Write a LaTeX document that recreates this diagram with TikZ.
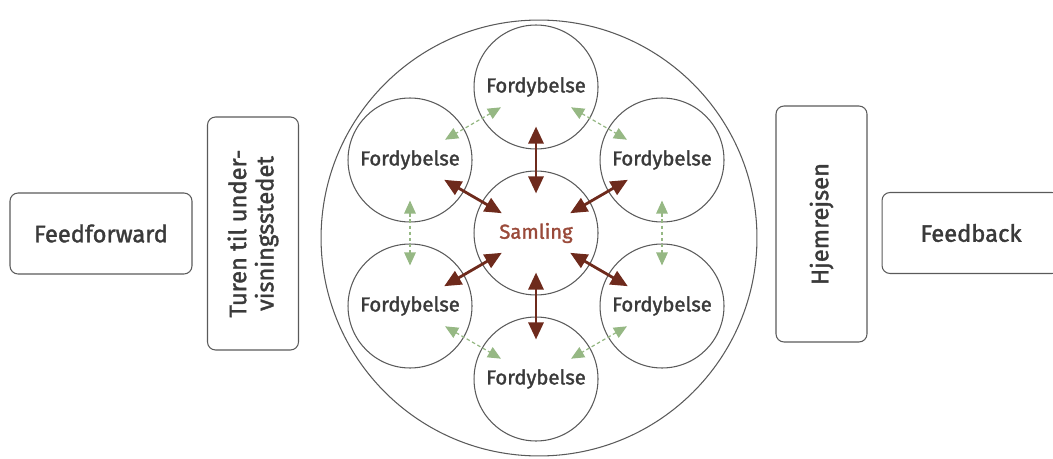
\documentclass[tikz,border=0pt]{standalone}
\usepackage{fontspec}
\setmainfont{Fira Sans}
\newfontfamily\diagfont{Fira Sans}[FakeBold=1.6]
\usepackage{xcolor}
\usepackage{tikz}
\usetikzlibrary{arrows.meta, positioning, calc}

\definecolor{linegray}{HTML}{5A5A5A}
\definecolor{textgray}{HTML}{3A3A3A}
\definecolor{brownred}{HTML}{6E2A1C}
\definecolor{samlingred}{HTML}{9A4A3A}
\definecolor{lightgreen}{HTML}{96B884}

\begin{document}
\begin{tikzpicture}[
  x=0.02cm, y=-0.02cm,
  phase/.style={draw=linegray, line width=0.6pt, rounded corners=1.6mm, align=center,
    text=textgray, font=\diagfont\fontsize{13.5}{15.5}\selectfont, inner sep=0pt},
  deep/.style={circle, draw=linegray, line width=0.6pt, minimum size=2.48cm,
    inner sep=0pt, text=textgray, font=\diagfont\fontsize{11.5}{13}\selectfont},
  core/.style={{Triangle[length=3.4mm,width=3mm]}-{Triangle[length=3.4mm,width=3mm]},
    draw=brownred, line width=1.6pt, shorten <=-0.46cm, shorten >=-0.46cm},
  peer/.style={{Triangle[length=2.6mm,width=2.3mm]}-{Triangle[length=2.6mm,width=2.3mm]},
    draw=lightgreen, line width=0.7pt, dash pattern=on 2pt off 1.5pt,
    shorten <=-0.44cm, shorten >=-0.44cm}
]
\useasboundingbox (0,0) rectangle (1053,459);

% outer ring
\node[circle, draw=linegray, line width=0.6pt, minimum size=8.72cm, inner sep=0pt] (ring) at (539,238) {};

% side boxes
\node[phase, minimum width=3.64cm, minimum height=1.62cm] (feedforward) at (101,233.5) {Feedforward};
\node[phase, rotate=90, minimum width=4.66cm, minimum height=1.82cm] (turen) at (253,233.5) {Turen til under-\\visningsstedet};
\node[phase, rotate=90, minimum width=4.72cm, minimum height=1.82cm] (hjem) at (821.5,224) {Hjemrejsen};
\node[phase, minimum width=3.56cm, minimum height=1.62cm] (feedback) at (971,233) {Feedback};

% circles
\node[deep, text=samlingred] (samling) at (536,233) {Samling};
\node[deep] (ftop) at (536,87) {Fordybelse};
\node[deep] (fupleft) at (410,160) {Fordybelse};
\node[deep] (fupright) at (662,160) {Fordybelse};
\node[deep] (flowleft) at (410,306) {Fordybelse};
\node[deep] (flowright) at (662,306) {Fordybelse};
\node[deep] (fbot) at (536,379) {Fordybelse};

% samling to each
\draw[core] (samling) -- (ftop);
\draw[core] (samling) -- (fupleft);
\draw[core] (samling) -- (fupright);
\draw[core] (samling) -- (flowleft);
\draw[core] (samling) -- (flowright);
\draw[core] (samling) -- (fbot);

% neighbours
\draw[peer] (ftop) -- (fupleft);
\draw[peer] (ftop) -- (fupright);
\draw[peer] (fupleft) -- (flowleft);
\draw[peer] (fupright) -- (flowright);
\draw[peer] (flowleft) -- (fbot);
\draw[peer] (flowright) -- (fbot);
\end{tikzpicture}
\end{document}
